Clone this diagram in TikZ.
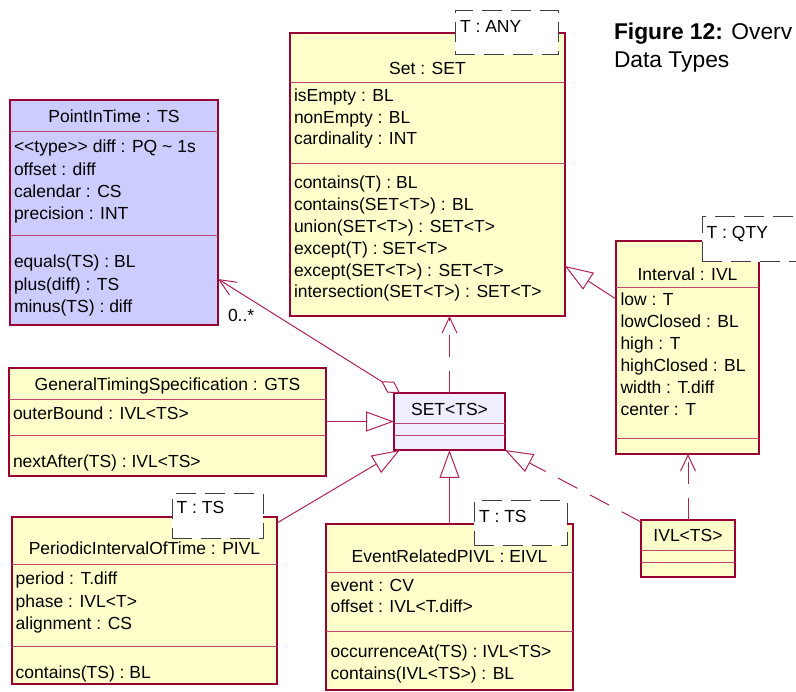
\documentclass[tikz,border=0pt]{standalone}
\usepackage{fontspec}
\setmainfont{Liberation Sans}
\usetikzlibrary{arrows.meta}
\definecolor{umlborder}{RGB}{153,0,51}
\definecolor{umlsep}{RGB}{190,70,110}
\definecolor{umlline}{RGB}{175,35,85}
\definecolor{boxyellow}{RGB}{255,255,204}
\definecolor{boxlilac}{RGB}{204,204,255}
\definecolor{boxpale}{RGB}{238,238,255}
\newcommand{\classlines}[5]{%
  \foreach \t [count=\i] in {#5}{%
    \node[txt, anchor=base west] (#1\i) at (#2, {#3+(\i-1)*#4}) {\t};}}
\begin{document}
\begin{tikzpicture}[x=1pt,y=-1pt,
  classbox/.style={draw=umlborder, line width=1.3pt, inner sep=0pt, outer sep=0pt, anchor=north west, fill=boxyellow},
  sepline/.style={draw=umlsep, line width=1pt},
  txt/.style={inner sep=0pt, outer sep=0pt, font=\fontsize{17.5}{21}\selectfont},
  tmpl/.style={draw=black!75, fill=white, line width=1pt, dash pattern=on 20pt off 9pt, inner sep=0pt, outer sep=0pt, anchor=north west},
  conn/.style={draw=umlline, line width=1pt},
  dep/.style={conn, dash pattern=on 22pt off 14pt},
  gentip/.style={-{Triangle[length=28pt, width=20pt, fill=white]}},
  deptip/.style={-{Straight Barb[length=16pt, width=15pt]}},
  captxt/.style={inner sep=0pt, outer sep=0pt, font=\fontsize{22.8}{27}\selectfont}]
\useasboundingbox[fill=white] (0,0) rectangle (796,692);

% ---------- PointInTime
\node[classbox, fill=boxlilac, minimum width=208pt, minimum height=225pt] (pit) at (10,100) {};
\draw[sepline] (pit.west |- 0,132) -- (pit.east |- 0,132);
\draw[sepline] (pit.west |- 0,236) -- (pit.east |- 0,236);
\node[txt, anchor=base] (pitT) at (114,123) {PointInTime : TS};
\classlines{pita}{14}{152.7}{22.4}{{<{}<type>{}> diff : PQ \textasciitilde{} 1s},{offset : diff},{calendar : CS},{precision : INT}}
\classlines{pito}{14}{267.7}{22.4}{{equals(TS) : BL},{plus(diff) : TS},{minus(TS) : diff}}

% ---------- Set
\node[classbox, minimum width=275pt, minimum height=283pt] (set) at (290,33) {};
\draw[sepline] (set.west |- 0,83) -- (set.east |- 0,83);
\draw[sepline] (set.west |- 0,164) -- (set.east |- 0,164);
\node[txt, anchor=base] (setT) at (427.5,75) {Set : SET};
\classlines{seta}{294}{102}{21.5}{{isEmpty : BL},{nonEmpty : BL},{cardinality : INT}}
\classlines{seto}{294}{189}{21.8}{{contains(T) : BL},{contains(SET<T>) : BL},{union(SET<T>) : SET<T>},{except(T) : SET<T>},{except(SET<T>) : SET<T>},{intersection(SET<T>) : SET<T>}}
\node[tmpl, minimum width=103pt, minimum height=44pt] (tset) at (455,11) {};
\node[txt, anchor=base west] (tsetT) at (460,33) {T : ANY};

% ---------- Interval
\node[classbox, minimum width=143pt, minimum height=213pt] (ivl) at (616,241) {};
\draw[sepline] (ivl.west |- 0,288) -- (ivl.east |- 0,288);
\draw[sepline] (ivl.west |- 0,439) -- (ivl.east |- 0,439);
\node[txt, anchor=base] (ivlT) at (687.5,281) {Interval : IVL};
\classlines{ivla}{620.5}{306}{22}{{low : T},{lowClosed : BL},{high : T},{highClosed : BL},{width : T.diff},{center : T}}
\node[tmpl, minimum width=110pt, minimum height=45pt] (tivl) at (702,217) {};
\node[txt, anchor=base west] (tivlT) at (706.7,239) {T : QTY};

% ---------- IVL<TS>
\node[classbox, minimum width=94pt, minimum height=57pt] (ivlts) at (641,520) {};
\draw[sepline] (ivlts.west |- 0,551) -- (ivlts.east |- 0,551);
\draw[sepline] (ivlts.west |- 0,563) -- (ivlts.east |- 0,563);
\node[txt, anchor=base] (ivltsT) at (688,542) {IVL<TS>};

% ---------- GeneralTimingSpecification
\node[classbox, minimum width=317pt, minimum height=108pt] (gts) at (9,368) {};
\draw[sepline] (gts.west |- 0,400) -- (gts.east |- 0,400);
\draw[sepline] (gts.west |- 0,436) -- (gts.east |- 0,436);
\node[txt, anchor=base] (gtsT) at (167.5,391) {GeneralTimingSpecification : GTS};
\node[txt, anchor=base west] (gtsa1) at (13,419.6) {outerBound : IVL<TS>};
\node[txt, anchor=base west] (gtso1) at (13,468) {nextAfter(TS) : IVL<TS>};

% ---------- SET<TS>
\node[classbox, fill=boxpale, minimum width=111pt, minimum height=57pt] (sets) at (394,393) {};
\draw[sepline] (sets.west |- 0,424) -- (sets.east |- 0,424);
\draw[sepline] (sets.west |- 0,436) -- (sets.east |- 0,436);
\node[txt, anchor=base] (setsT) at (449.5,416) {SET<TS>};

% ---------- PeriodicIntervalOfTime
\node[classbox, minimum width=265pt, minimum height=167pt] (pivl) at (12,517) {};
\draw[sepline] (pivl.west |- 0,565) -- (pivl.east |- 0,565);
\draw[sepline] (pivl.west |- 0,646) -- (pivl.east |- 0,646);
\node[txt, anchor=base] (pivlT) at (144.5,555) {PeriodicIntervalOfTime : PIVL};
\classlines{pivla}{15.7}{585}{22.5}{{period : T.diff},{phase : IVL<T>},{alignment : CS}}
\node[txt, anchor=base west] (pivlo1) at (15.7,678) {contains(TS) : BL};
\node[tmpl, minimum width=91pt, minimum height=45pt] (tpivl) at (172,494) {};
\node[txt, anchor=base west] (tpivlT) at (176.7,514) {T : TS};

% ---------- EventRelatedPIVL
\node[classbox, minimum width=247pt, minimum height=166pt] (eivl) at (326,524) {};
\draw[sepline] (eivl.west |- 0,573) -- (eivl.east |- 0,573);
\draw[sepline] (eivl.west |- 0,631) -- (eivl.east |- 0,631);
\node[txt, anchor=base] (eivlT) at (449.5,563) {EventRelatedPIVL : EIVL};
\classlines{eivla}{330.7}{591}{21.5}{{event : CV},{offset : IVL<T.diff>}}
\classlines{eivlo}{330.7}{657}{22}{{occurrenceAt(TS) : IVL<TS>},{contains(IVL<TS>) : BL}}
\node[tmpl, minimum width=93pt, minimum height=45pt] (teivl) at (474,501) {};
\node[txt, anchor=base west] (teivlT) at (479,523) {T : TS};

% ---------- connectors
\draw[conn, {Diamond[open, length=22pt, width=13pt]}-{Straight Barb[length=17pt, width=15pt]}]
  ([xshift=6pt]sets.north west) -- (pit.east |- 0,279);
\node[txt, anchor=base west] (mult) at (228,322) {0..*};
\draw[conn, gentip] (gts.east |- sets.west) -- (sets.west);
\draw[conn, gentip] ([yshift=-6pt]pivl.north east) -- ([xshift=6pt]sets.south west);
\draw[conn, gentip] (eivl.north) -- (sets.south);
\draw[dep, gentip] ([yshift=-2pt]ivlts.north west) -- (sets.south east);
\draw[conn, gentip] (ivl.west |- 0,299) -- (set.east |- 0,266);
\draw[dep, deptip] (sets.north) -- (sets.north |- set.south);
\draw[dep, deptip] (ivlts.north) -- (ivlts.north |- ivl.south);

% ---------- caption
\node[captxt, anchor=base west] (cap1) at (614,40) {\textbf{Figure 12:} Overv};
\node[captxt, anchor=base west] (cap2) at (614,68) {Data Types};
\end{tikzpicture}
\end{document}
